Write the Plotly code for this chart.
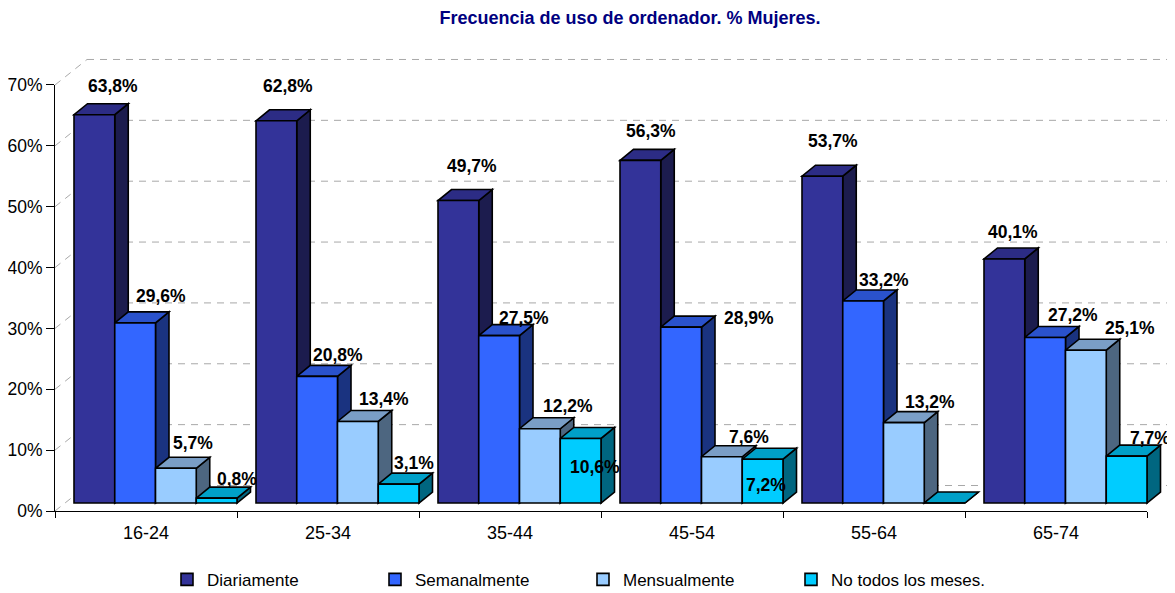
import plotly.graph_objects as go

categories = ["16-24", "25-34", "35-44", "45-54", "55-64", "65-74"]
series_names = ["Diariamente", "Semanalmente", "Mensualmente", "No todos los meses."]
diariamente = [63.8, 62.8, 49.7, 56.3, 53.7, 40.1]
semanalmente = [29.6, 20.8, 27.5, 28.9, 33.2, 27.2]
mensualmente = [5.7, 13.4, 12.2, 7.6, 13.2, 25.1]
no_todos = [0.8, 3.1, 10.6, 7.2, 0.0, 7.7]
y_ticks = [0, 10, 20, 30, 40, 50, 60, 70]
y_ticktext = ["0%", "10%", "20%", "30%", "40%", "50%", "60%", "70%"]

series = [diariamente, semanalmente, mensualmente, no_todos]

# front / top / side colours of the 3d columns
front_cols = ["#333399", "#3366FF", "#99CCFF", "#00CCFF"]
top_cols = ["#2C2C85", "#2A52CC", "#7A9EC6", "#00A0C8"]
side_cols = ["#1C1C4E", "#1A3380", "#4D6680", "#006680"]

# label offsets (px) relative to the top centre of each column front
label_shift = [
    [(19, 29), (26, 27), (17, 25), (20, 19)],
    [(12, 35), (21, 21), (26, 22), (15, 21)],
    [(14, 35), (25, 18), (28, 23), (14, -29)],
    [(11, 29), (68, 9), (27, 20), (3, -26)],
    [(11, 35), (21, 21), (26, 21), (0, 0)],
    [(9, 27), (28, 22), (44, 22), (23, 18)],
]

# geometry (data units)
PX_X = 182.0      # px per category
PX_Y = 6.086      # px per percent
bar_w = 40.75 / PX_X
bar_gap = 19 / PX_X
base = 8 / PX_Y
dx, dy = 13.5 / PX_X, 11 / PX_Y
wall_dx, wall_dy = 32 / PX_X, 25.5 / PX_Y

# page body has an 8px margin, so the figure is drawn 8px smaller
W, H = 1167, 585
plot_w, plot_h = 1120, 456
x_max = -0.5 + plot_w / PX_X
y_max = plot_h / PX_Y

fig = go.Figure()

for j, vals in enumerate(series):
    off = -0.5 + bar_gap + bar_w * j
    fig.add_trace(go.Bar(
        x=list(range(len(categories))), y=vals, base=base,
        offset=off, width=bar_w, name=series_names[j],
        marker=dict(color=front_cols[j], line=dict(color="black", width=1.6)),
    ))

# dummy trace so the axis subplot gets drawn
fig.add_trace(go.Scatter(x=[None], y=[None], xaxis="x2", yaxis="y2",
                         showlegend=False, hoverinfo="skip"))

shapes = []
grid = dict(color="#A8A8A8", width=1, dash="7px,6px")
for v in y_ticks:
    shapes.append(dict(type="line", xref="x", yref="y", layer="below",
                       x0=-0.5, y0=v, x1=-0.5 + wall_dx, y1=v + wall_dy, line=grid))
    shapes.append(dict(type="line", xref="x", yref="y", layer="below",
                       x0=-0.5 + wall_dx, y0=v + wall_dy, x1=5.5 + wall_dx, y1=v + wall_dy,
                       line=grid))

annotations = []
for i in range(len(categories)):
    for j, vals in enumerate(series):
        v = vals[i]
        xl = i - 0.5 + bar_gap + bar_w * j
        xr = xl + bar_w
        yt = base + v
        side = (f"M {xr},{base} L {xr},{yt} L {xr + dx},{yt + dy} "
                f"L {xr + dx},{base + dy} Z")
        top = (f"M {xl},{yt} L {xr},{yt} L {xr + dx},{yt + dy} "
               f"L {xl + dx},{yt + dy} Z")
        shapes.append(dict(type="path", path=side, xref="x", yref="y", layer="below",
                           fillcolor=side_cols[j], line=dict(color="black", width=1.6)))
        shapes.append(dict(type="path", path=top, xref="x", yref="y", layer="below",
                           fillcolor=top_cols[j], line=dict(color="black", width=1.6)))
        if v > 0:
            sx, sy = label_shift[i][j]
            annotations.append(dict(
                x=(xl + xr) / 2, y=yt, xref="x", yref="y",
                text=f"<b>{v:.1f}%</b>".replace(".", ","),
                showarrow=False, xshift=sx, yshift=sy,
                font=dict(size=17.5, color="black"),
            ))

fig.update_layout(
    width=W, height=H,
    margin=dict(l=47, r=0, t=47, b=82, autoexpand=False),
    paper_bgcolor="white", plot_bgcolor="rgba(0,0,0,0)",
    font=dict(family="Arial, Liberation Sans, sans-serif", color="black", size=18),
    barmode="overlay",
    title=dict(text="<b>Frecuencia de uso de ordenador. % Mujeres.</b>",
               x=622 / W, xanchor="center", y=1 - 10 / H, yanchor="middle",
               font=dict(size=18, color="#000080")),
    xaxis=dict(range=[-0.5, x_max], domain=[0, 1], visible=False, fixedrange=True),
    yaxis=dict(range=[0, y_max], domain=[0, 1], visible=False, fixedrange=True),
    xaxis2=dict(range=[-0.5, 5.5], domain=[0, 6 * PX_X / plot_w], anchor="y2",
                tickmode="array", tickvals=list(range(len(categories))),
                ticktext=categories, ticks="outside", ticklen=5,
                tickcolor="rgba(0,0,0,0)", showline=True, linecolor="black",
                linewidth=1, showgrid=False, zeroline=False,
                minor=dict(tickmode="array", tickvals=[k - 0.5 for k in range(7)],
                           ticks="outside", ticklen=6, tickcolor="black",
                           showgrid=False)),
    yaxis2=dict(range=[0, 70], domain=[0, 70 * PX_Y / plot_h], anchor="x2",
                tickmode="array", tickvals=y_ticks, ticktext=y_ticktext,
                ticks="outside", ticklen=8, tickcolor="black",
                tickfont=dict(size=17.5),
                showline=True, linecolor="black", linewidth=1,
                showgrid=False, zeroline=False),
    shapes=shapes,
    annotations=annotations,
    legend=dict(orientation="h", x=0.1, xanchor="left", y=-0.151,
                yanchor="middle", font=dict(size=17),
                entrywidth=163, traceorder="normal"),
)

fig.write_html("out.html")
